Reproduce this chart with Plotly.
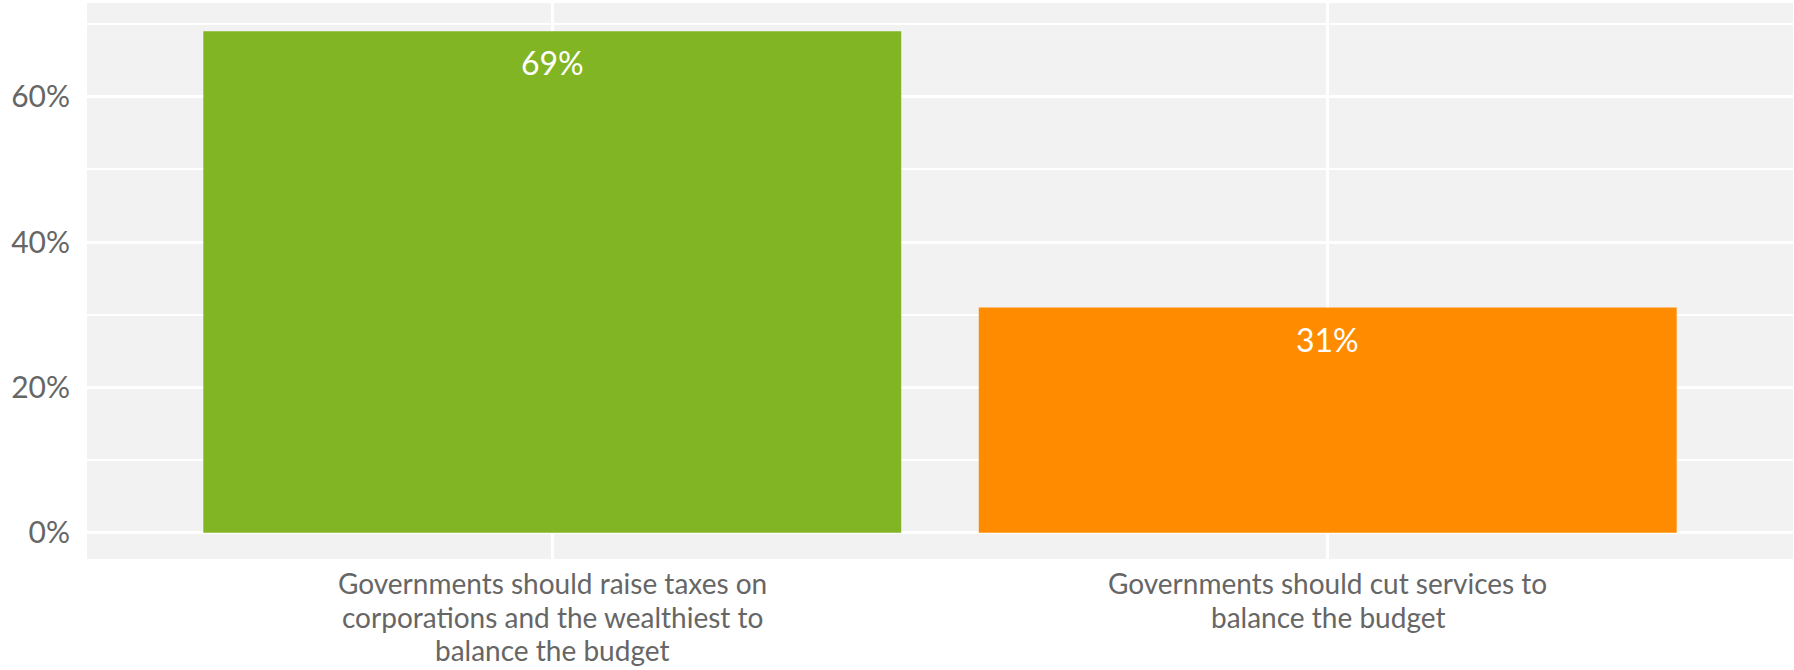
import plotly.graph_objects as go

categories = [
    "Governments should raise taxes on<br>corporations and the wealthiest to<br>balance the budget",
    "Governments should cut services to<br>balance the budget",
]
values = [69, 31]
labels = ["69%", "31%"]
colors = ["#82b523", "#ff8c00"]
y_ticks = [0, 20, 40, 60]
y_tick_text = ["0%", "20%", "40%", "60%"]

GREY = "#666666"

fig = go.Figure(
    go.Bar(
        x=categories,
        y=values,
        marker=dict(color=colors, line=dict(width=0)),
        width=0.9,
        hoverinfo="skip",
    )
)

annotations = []
# value labels inside the top of each bar
for cat, val, lab in zip(categories, values, labels):
    annotations.append(dict(
        x=cat, y=val, xref="x", yref="y", text=lab, showarrow=False,
        yanchor="top", yshift=-10,
        font=dict(family="Lato", size=32, color="white"),
    ))
# category labels under the axis, one annotation per line for tighter line spacing
for cat in categories:
    for i, line in enumerate(cat.split("<br>")):
        annotations.append(dict(
            x=cat, y=0, xref="x", yref="paper", text=line, showarrow=False,
            yanchor="top", yshift=-5 - 33.6 * i,
            font=dict(family="Lato", size=28, color=GREY),
        ))

fig.update_layout(
    width=1794,
    height=670,
    margin=dict(l=87, r=1, t=3, b=111, autoexpand=False),
    paper_bgcolor="white",
    plot_bgcolor="#f2f2f2",
    font=dict(family="Lato", size=24, color=GREY),
    showlegend=False,
    annotations=annotations,
)
fig.update_xaxes(
    range=[-0.6, 1.6],
    showgrid=True,
    gridcolor="white",
    gridwidth=3,
    showticklabels=False,
    ticks="",
    showline=False,
    automargin=False,
)
fig.update_yaxes(
    range=[-3.6, 72.9],
    tickvals=y_ticks,
    ticktext=y_tick_text,
    showgrid=True,
    gridcolor="white",
    gridwidth=3,
    minor=dict(dtick=10, tick0=0, showgrid=True, gridcolor="white", gridwidth=2),
    zeroline=True,
    zerolinecolor="white",
    zerolinewidth=3,
    tickfont=dict(family="Lato", size=30, color=GREY),
    ticks="outside",
    ticklen=10,
    tickcolor="rgba(0,0,0,0)",
    showline=False,
    automargin=False,
)

fig.write_html(
    "out.html",
    config={"displayModeBar": False},
    post_script="document.body.style.margin='0';document.body.style.overflow='hidden';",
)
